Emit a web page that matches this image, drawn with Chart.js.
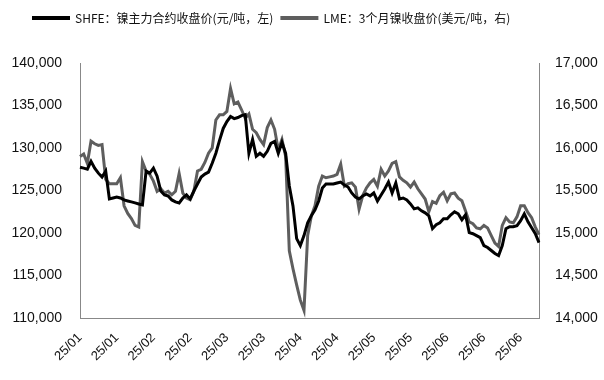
<!DOCTYPE html>
<html>
<head>
<meta charset="utf-8">
<script src="https://cdn.jsdelivr.net/npm/chart.js@4.4.1/dist/chart.umd.min.js"></script>
<style>
html,body{margin:0;padding:0;background:#fff;}
#wrap{width:604px;height:380px;position:relative;}
</style>
</head>
<body>
<div id="wrap"><canvas id="c" width="604" height="380"></canvas></div>
<script>
// x categories (one per trading day), shown every 10th
const categories = [
"25/01","25/01","25/01","25/01","25/01","25/01","25/01","25/01","25/01","25/01",
"25/01","25/01","25/01","25/01","25/01","25/01","25/01","25/01","25/01","25/01",
"25/02","25/02","25/02","25/02","25/02","25/02","25/02","25/02","25/02","25/02",
"25/02","25/02","25/02","25/02","25/02","25/02","25/02","25/02","25/02","25/02",
"25/03","25/03","25/03","25/03","25/03","25/03","25/03","25/03","25/03","25/03",
"25/03","25/03","25/03","25/03","25/03","25/03","25/03","25/03","25/03","25/03",
"25/04","25/04","25/04","25/04","25/04","25/04","25/04","25/04","25/04","25/04",
"25/04","25/04","25/04","25/04","25/04","25/04","25/04","25/04","25/04","25/04",
"25/05","25/05","25/05","25/05","25/05","25/05","25/05","25/05","25/05","25/05",
"25/05","25/05","25/05","25/05","25/05","25/05","25/05","25/05","25/05","25/05",
"25/06","25/06","25/06","25/06","25/06","25/06","25/06","25/06","25/06","25/06",
"25/06","25/06","25/06","25/06","25/06","25/06","25/06","25/06","25/06","25/06",
"25/06","25/06","25/06","25/06","25/06","25/06"
];

// SHFE nickel main contract close (CNY/t, left axis)
const shfe = [
127740,127630,127510,128440,127630,127040,126580,127280,124010,124120,
124240,124120,123890,123770,123660,123540,123420,123310,127280,127040,
127630,126690,124940,124480,124360,123890,123660,123540,124120,124480,
124010,124940,125760,126580,126930,127160,128210,129380,130900,132300,
133110,133700,133460,133580,133810,133930,129380,131010,129030,129380,
129030,129610,130540,130780,129380,130660,129380,125530,123190,119340,
118520,119690,121210,122020,122720,123770,125290,125760,125760,125760,
125880,125990,125640,125410,124710,124240,124010,124360,124590,124360,
124710,123770,124480,125180,125990,124710,125880,124010,124120,123890,
123420,122840,122960,122610,122370,122020,120510,120970,121210,121670,
121670,122140,122490,122260,121560,122140,120040,119920,119690,119460,
118520,118290,117940,117590,117350,118520,120510,120740,120740,120860,
121440,122260,121320,120620,119920,118870
];

// LME 3-month nickel close (USD/t, right axis)
const lme = [
15900,15930,15820,16080,16050,16030,16040,15630,15580,15580,
15580,15650,15320,15230,15170,15090,15070,15840,15730,15690,
15610,15490,15520,15470,15490,15450,15490,15700,15470,15410,
15390,15490,15730,15750,15830,15940,16000,16330,16390,16390,
16430,16700,16520,16540,16450,16350,16400,16220,16180,16100,
16040,16240,16330,16220,15980,16100,15900,14790,14580,14390,
14210,14090,14970,15200,15320,15550,15670,15650,15660,15670,
15690,15810,15550,15580,15590,15540,15280,15440,15530,15590,
15630,15550,15750,15670,15730,15820,15840,15660,15620,15590,
15540,15600,15520,15460,15400,15250,15370,15350,15440,15480,
15380,15460,15470,15410,15380,15260,15130,15110,15060,15050,
15090,15060,14970,14880,14840,15090,15180,15130,15120,15190,
15320,15320,15240,15180,15070,14980
];

const seriesNames = ["SHFE：镍主力合约收盘价(元/吨，左)", "LME：3个月镍收盘价(美元/吨，右)"];
const leftTicks = {min:110000, max:140000, step:5000};
const rightTicks = {min:14000, max:17000, step:500};

const FONT = "'Liberation Sans', Arial, 'Noto Sans CJK SC', sans-serif";
const LEGEND_FONT = "12px 'Noto Sans CJK SC', 'Liberation Sans', sans-serif";
const fmt = v => Number(v).toLocaleString('en-US');

// simple legend drawn on top (line sample + text)
const legendPlugin = {
  id: 'topLegend',
  afterDraw(chart) {
    const ctx = chart.ctx;
    ctx.save();
    ctx.font = LEGEND_FONT;
    ctx.textBaseline = 'middle';
    ctx.textAlign = 'left';
    let x = 32;
    const y = 18;
    chart.data.datasets.forEach((ds, i) => {
      ctx.strokeStyle = ds.borderColor;
      ctx.lineWidth = 4;
      ctx.beginPath();
      ctx.moveTo(x, y);
      ctx.lineTo(x + 38, y);
      ctx.stroke();
      ctx.fillStyle = '#111';
      ctx.fillText(ds.label, x + 43, y);
      x += 43 + ctx.measureText(ds.label).width + 7;
    });
    ctx.restore();
  }
};

new Chart(document.getElementById('c'), {
  type: 'line',
  data: {
    labels: categories,
    datasets: [
      {label: seriesNames[0], data: shfe, yAxisID: 'y', borderColor: '#000000', backgroundColor: '#000000',
       borderWidth: 3, pointRadius: 0, tension: 0},
      {label: seriesNames[1], data: lme, yAxisID: 'y1', borderColor: '#5e5e5e', backgroundColor: '#5e5e5e',
       borderWidth: 3, pointRadius: 0, tension: 0}
    ]
  },
  plugins: [legendPlugin],
  options: {
    responsive: false,
    animation: false,
    devicePixelRatio: 1,
    layout: {padding: {top: 63, left: 0, right: 0, bottom: 0}},
    plugins: {
      legend: {display: false},
      tooltip: {enabled: false}
    },
    scales: {
      x: {
        offset: false,
        grid: {display: false},
        border: {display: true, color: '#888888', width: 1},
        ticks: {autoSkip: false, maxRotation: 45, minRotation: 45, color: '#111', padding: 4,
                font: {family: FONT, size: 13},
                callback: function(v, i){ return i % 10 === 0 ? this.getLabelForValue(v) : null; }},
        afterFit: s => { s.height = 62; }
      },
      y: {
        position: 'left', min: leftTicks.min, max: leftTicks.max,
        grid: {display: false},
        border: {display: true, color: '#888888', width: 1},
        ticks: {stepSize: leftTicks.step, color: '#111', padding: 10, font: {family: FONT, size: 14}, callback: fmt},
        afterFit: s => { s.width = 80; }
      },
      y1: {
        position: 'right', min: rightTicks.min, max: rightTicks.max,
        grid: {display: false},
        border: {display: true, color: '#888888', width: 1},
        ticks: {stepSize: rightTicks.step, color: '#111', padding: 8, font: {family: FONT, size: 14}, callback: fmt},
        afterFit: s => { s.width = 65; }
      }
    }
  }
});
</script>
</body>
</html>
